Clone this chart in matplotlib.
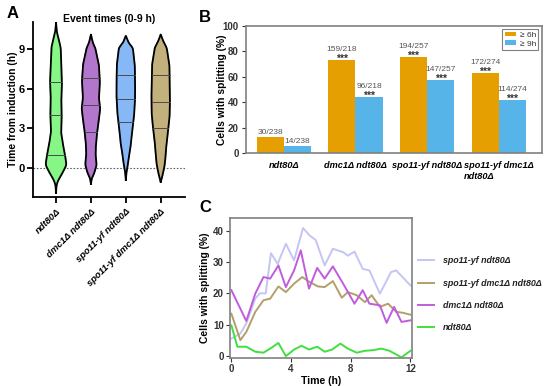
import numpy as np
import matplotlib
matplotlib.use("Agg")
import matplotlib.pyplot as plt

plt.rcParams['font.family'] = ['Liberation Sans', 'DejaVu Sans']
plt.rcParams['font.weight'] = 'bold'

# ---------------- Panel A data (violin profiles) ----------------
violin_labels = ['ndt80Δ', 'dmc1Δ ndt80Δ', 'spo11-yf ndt80Δ', 'spo11-yf dmc1Δ ndt80Δ']
violin_colors = ['#86F786', '#B276CC', '#86B8F7', '#C2B17C']
green_y = [-1.9, -1.3, -0.9, -0.4, 0.23, 1.0, 1.75, 2.75, 4.0, 5.3, 6.5, 7.8, 9.1, 9.8, 10.3, 11.0]
green_w = [0, 0.5, 2.3, 6.3, 10.5, 9, 7, 5, 5.7, 5.3, 6, 5.3, 4.7, 2.5, 0.8, 0]
purple_y = [-1.2, -0.8, -0.4, 0.23, 1.0, 1.75, 2.75, 3.5, 4.5, 5.3, 6.5, 7.8, 9.1, 9.45, 10.1]
purple_w = [0, 0.8, 3.3, 5.7, 4.7, 5, 6.3, 7.7, 9.3, 8, 9, 8, 4.3, 2, 0]
blue_y = [-0.9, -0.3, 0.23, 1.0, 1.75, 2.75, 4.0, 5.3, 6.5, 7.8, 9.1, 9.45, 10.0]
blue_w = [0, 0.7, 2, 3.3, 5, 6.3, 8.3, 9.3, 9.3, 9, 7, 3, 0]
khaki_y = [-1.05, -0.8, -0.4, 0.23, 1.0, 1.75, 2.75, 4.0, 5.3, 6.5, 7.8, 9.1, 9.6, 10.1]
khaki_w = [0, 1, 2.3, 4, 5, 5.7, 7.3, 9, 9.3, 9, 8.7, 6, 2.5, 0]
violin_profiles = [(green_y, green_w), (purple_y, purple_w), (blue_y, blue_w), (khaki_y, khaki_w)]
violin_quartiles = [[1.0, 4.0, 6.5], [2.75, 4.75, 6.8], [3.5, 5.25, 7.0], [3.0, 5.0, 7.0]]
a_yticks = [0, 3, 6, 9]

# ---------------- Panel B data ----------------
bar_groups = ['ndt80Δ', 'dmc1Δ ndt80Δ', 'spo11-yf ndt80Δ', 'spo11-yf dmc1Δ\nndt80Δ']
n6 = [30, 159, 194, 172]
n9 = [14, 96, 147, 114]
totals = [238, 218, 257, 274]
stars6 = ['', '***', '***', '***']
stars9 = ['', '***', '***', '***']
b_yticks = [0, 20, 40, 60, 80, 100]

# ---------------- Panel C data ----------------
lav_t = [0, 0.6, 1.0, 1.6, 1.9, 2.3, 2.65, 3.1, 3.65, 4.2, 4.8, 5.25, 5.65, 6.25, 6.8, 7.5, 7.8, 8.25, 8.8, 9.25, 9.95, 10.7, 11.05, 12]
lav_v = [5.6, 7.2, 10.4, 18.3, 20, 20, 32.8, 29.4, 35.8, 30.5, 40.8, 38.4, 37, 28.9, 34.2, 33.1, 32, 33.3, 27.8, 27.3, 19.9, 26.8, 27.3, 22.5]
pur_t = [0, 1.0, 1.6, 2.15, 2.6, 3.15, 3.65, 4.2, 4.65, 5.2, 5.75, 6.25, 6.8, 7.5, 8.25, 8.8, 9.25, 9.95, 10.4, 10.9, 11.4, 12]
pur_v = [21, 11.2, 19.9, 25.2, 24.7, 28.9, 22, 27.3, 33.7, 21.5, 28.1, 24.7, 28.6, 23, 16.7, 21, 16.7, 16.2, 10.6, 15.7, 10.9, 11.4]
kha_t = [0, 0.6, 1.0, 1.6, 2.15, 2.6, 3.15, 3.65, 4.2, 4.75, 5.25, 5.8, 6.25, 6.8, 7.4, 7.8, 8.4, 8.95, 9.4, 9.95, 10.5, 11.05, 11.5, 12]
kha_v = [13.5, 5.1, 7.7, 14.1, 17.8, 18.3, 22.2, 20.4, 23.1, 25.2, 23.6, 22.2, 22, 23.9, 18.6, 20.4, 19.4, 17.2, 19.4, 15.7, 16.7, 14.1, 13.8, 13.2]
grn_t = [0, 0.4, 1.0, 1.6, 2.15, 2.6, 3.15, 3.65, 4.2, 4.7, 5.2, 5.75, 6.25, 6.75, 7.3, 7.8, 8.4, 8.95, 9.5, 10.05, 10.6, 11.4, 12]
grn_v = [9.8, 3, 3, 1.4, 1.1, 2.4, 4.2, 0, 2.1, 3.3, 2.1, 3, 1.4, 2.1, 4.0, 2.4, 1.1, 1.7, 1.9, 2.4, 1.7, -0.4, 1.7]
line_series = [
    ('spo11-yf ndt80Δ', lav_t, lav_v, '#C5C5F2'),
    ('spo11-yf dmc1Δ ndt80Δ', kha_t, kha_v, '#B39F6C'),
    ('dmc1Δ ndt80Δ', pur_t, pur_v, '#C15CDD'),
    ('ndt80Δ', grn_t, grn_v, '#3FE03F'),
]
c_xticks = [0, 4, 8, 12]
c_yticks = [0, 10, 20, 30, 40]

fig = plt.figure(figsize=(5.5, 3.86), dpi=100)

# ================= Panel A =================
axA = fig.add_axes([0.06, 0.4896, 0.276, 0.4534])
PX = 35.0  # pixels per category unit (for profile scaling)
for i, ((yy, ww), col, q) in enumerate(zip(violin_profiles, violin_colors, violin_quartiles)):
    yy = np.asarray(yy, float)
    ww = np.asarray(ww, float) / PX
    fy = np.linspace(yy[0], yy[-1], 300)
    fw = np.interp(fy, yy, ww)
    k = np.ones(9) / 9
    fw_s = np.convolve(np.pad(fw, 4, mode='edge'), k, mode='valid')
    fw_s[0] = 0; fw_s[-1] = 0
    xs = np.concatenate([i - fw_s, (i + fw_s)[::-1], [i - fw_s[0]]])
    ys = np.concatenate([fy, fy[::-1], [fy[0]]])
    axA.fill(xs, ys, color=col, zorder=2)
    axA.plot(xs, ys, color='black', lw=1.3, zorder=3, solid_joinstyle='round')
    for qv in q:
        hw = np.interp(qv, fy, fw_s)
        axA.plot([i - hw, i + hw], [qv, qv], color='#4a4a4a', lw=0.7, zorder=3)
axA.axhline(0, color='#666666', lw=0.8, ls=(0, (1.5, 1.5)), zorder=1)
axA.set_xlim(-0.66, 3.69)
axA.set_ylim(-2.2, 11.05)
axA.set_yticks(a_yticks)
axA.set_xticks(range(4))
axA.set_xticklabels(violin_labels, rotation=45, ha='right', rotation_mode='anchor',
                    fontsize=6.8, fontstyle='italic', fontweight='bold')
axA.tick_params(axis='y', labelsize=8, width=1.3, length=4, pad=2)
axA.tick_params(axis='x', width=1.3, length=4, pad=3)
for s in ['top', 'right']:
    axA.spines[s].set_visible(False)
for s in ['left', 'bottom']:
    axA.spines[s].set_linewidth(1.3)
axA.set_ylabel('Time from induction (h)', fontsize=7.4, fontweight='bold')
axA.yaxis.set_label_coords(-0.1, 0.5)
axA.text(0.5, 1.02, 'Event times (0-9 h)', transform=axA.transAxes, ha='center',
         va='center', fontsize=7.5, fontweight='bold')

# ================= Panel B =================
axB = fig.add_axes([0.447, 0.6036, 0.538, 0.329])
x = np.arange(len(bar_groups))
bw = 0.38
p6 = [a / b * 100 for a, b in zip(n6, totals)]
p9 = [a / b * 100 for a, b in zip(n9, totals)]
axB.bar(x - bw / 2, p6, bw, color='#E69F00', label='≥ 6h', zorder=2)
axB.bar(x + bw / 2, p9, bw, color='#56B4E9', label='≥ 9h', zorder=2)


def annotate(xs_, vals, ns, st_list):
    for xi, v, n, t, st in zip(xs_, vals, ns, totals, st_list):
        if st:
            axB.text(xi, v - 1.5, st, ha='center', va='baseline', fontsize=7.5,
                     color='#333333', fontweight='bold')
            axB.text(xi, v + 5.5, f'{n}/{t}', ha='center', va='bottom', fontsize=6,
                     color='#555555', fontweight='normal')
        else:
            axB.text(xi, v + 0.8, f'{n}/{t}', ha='center', va='bottom', fontsize=6,
                     color='#555555', fontweight='normal')


annotate(x - bw / 2, p6, n6, stars6)
annotate(x + bw / 2, p9, n9, stars9)
axB.set_xlim(-0.53, 3.6)
axB.set_ylim(0, 100)
axB.set_yticks(b_yticks)
axB.set_xticks(x)
axB.set_xticklabels(bar_groups, fontsize=6.6, fontstyle='italic', fontweight='bold',
                    multialignment='left')
axB.tick_params(axis='x', length=0, pad=6)
axB.tick_params(axis='y', labelsize=7, colors='#333333', length=3, width=0.8, pad=2)
for s in axB.spines.values():
    s.set_color('#808080'); s.set_linewidth(1.2)
axB.set_ylabel('Cells with splitting (%)', fontsize=7.4, fontweight='bold')
axB.yaxis.set_label_coords(-0.064, 0.5)
legB = axB.legend(loc='upper right', fontsize=6, handlelength=1.4, handleheight=0.45,
                  borderpad=0.3, labelspacing=0.15, handletextpad=0.4, fancybox=False,
                  edgecolor='#808080', framealpha=1, borderaxespad=0.4)
legB.get_frame().set_linewidth(0.8)
for t in legB.get_texts():
    t.set_fontweight('normal'); t.set_color('#333333')

# ================= Panel C =================
axC = fig.add_axes([0.418, 0.0725, 0.331, 0.3627])
for name, tt, vv, col in line_series:
    axC.plot(tt, vv, color=col, lw=1.4, label=name, solid_joinstyle='round')
axC.set_xlim(-0.1, 12.1)
axC.set_ylim(-0.6, 44)
axC.set_xticks(c_xticks)
axC.set_yticks(c_yticks)
axC.tick_params(labelsize=7, colors='#333333', length=3, width=0.8, pad=1.5)
for s in axC.spines.values():
    s.set_color('#808080'); s.set_linewidth(1.2)
axC.set_xlabel('Time (h)', fontsize=7.6, fontweight='bold', labelpad=1)
axC.set_ylabel('Cells with splitting (%)', fontsize=7.4, fontweight='bold')
axC.yaxis.set_label_coords(-0.11, 0.5)
legC = axC.legend(loc='center left', bbox_to_anchor=(0.99, 0.455), frameon=False,
                  fontsize=6.4, handlelength=1.8, labelspacing=1.5, handletextpad=1.0)
for t in legC.get_texts():
    t.set_fontstyle('italic'); t.set_fontweight('bold'); t.set_color('#222222')

# Panel letters
fig.text(0.012, 0.965, 'A', fontsize=12, fontweight='bold', va='center')
fig.text(0.362, 0.955, 'B', fontsize=12, fontweight='bold', va='center')
fig.text(0.362, 0.462, 'C', fontsize=12, fontweight='bold', va='center')

fig.savefig('out.png', dpi=100)
